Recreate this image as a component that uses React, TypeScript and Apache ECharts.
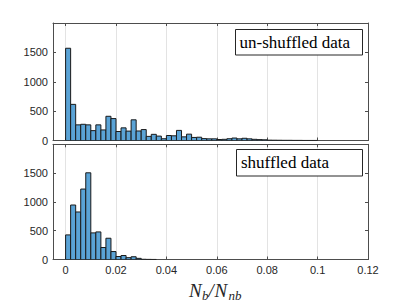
import React, { useEffect, useRef } from 'react';
import * as echarts from 'echarts';

// Histogram bin width (N_b/N_nb units); bins start at 0
const binWidth = 0.002;

// Counts per bin, un-shuffled data (top panel)
const unshuffledCounts = [
  1570, 615, 266, 276, 266, 168, 266, 180, 412, 373,
  153, 215, 160, 352, 162, 186, 70, 105, 75, 30,
  85, 80, 172, 62, 108, 52, 56, 32, 28, 28,
  17, 20, 30, 42, 28, 38, 28, 20, 15, 12,
  6, 5, 4, 3, 3, 2, 2, 1, 1, 1,
];

// Counts per bin, shuffled data (bottom panel)
const shuffledCounts = [
  427, 946, 825, 1223, 1505, 462, 479, 208, 369, 138,
  52, 69, 32, 48, 20, 4, 2, 1,
];

const panelLabels = ['un-shuffled data', 'shuffled data'];
const xMin = -0.005;
const xMax = 0.12;
const yMax = 2000;
const yStep = 500;

const axisColor = '#4d4d4d';
const barFill = '#5aa3d6';
const barEdge = '#1a1a1a';
const labelFont = { color: '#262626', fontFamily: 'Liberation Sans, Arial, sans-serif', fontSize: 11 };

function toBins(counts: number[]) {
  return counts.map((c, i) => [i * binWidth, (i + 1) * binWidth, c]);
}

function fmtX(v: number) {
  const k = v / 0.02;
  if (Math.abs(k - Math.round(k)) > 1e-6) return '';
  return String(Number(v.toFixed(4)));
}

function makeXAxes(gridIndex: number, showLabels: boolean) {
  const base: any = {
    type: 'value',
    gridIndex,
    min: xMin,
    max: xMax,
    splitNumber: 6,
    axisLine: { show: true, onZero: false, lineStyle: { color: axisColor, width: 1 } },
    axisTick: { show: true, inside: true, length: 3, lineStyle: { color: axisColor } },
  };
  return [
    {
      ...base,
      position: 'bottom',
      splitLine: { show: true, lineStyle: { color: '#e3e3e3', width: 1 } },
      axisLabel: { show: showLabels, margin: 5, ...labelFont, formatter: fmtX },
    },
    {
      ...base,
      position: 'top',
      splitLine: { show: false },
      axisLabel: { show: false },
    },
  ];
}

function makeYAxes(gridIndex: number) {
  const base: any = {
    type: 'value',
    gridIndex,
    min: 0,
    max: yMax,
    interval: yStep,
    axisLine: { show: true, onZero: false, lineStyle: { color: axisColor, width: 1 } },
    axisTick: { show: true, inside: true, length: 3, lineStyle: { color: axisColor } },
    splitLine: { show: false },
  };
  return [
    {
      ...base,
      position: 'left',
      axisLabel: {
        show: true,
        margin: 5,
        ...labelFont,
        formatter: (v: number) => (v >= yMax ? '' : String(v)),
      },
    },
    { ...base, position: 'right', axisLabel: { show: false } },
  ];
}

function histSeries(counts: number[], axisIndex: number) {
  return {
    type: 'custom',
    xAxisIndex: axisIndex,
    yAxisIndex: axisIndex,
    clip: true,
    encode: { x: [0, 1], y: 2 },
    data: toBins(counts),
    renderItem: (params: any, api: any) => {
      const x0 = api.value(0);
      const x1 = api.value(1);
      const v = api.value(2);
      const pTop = api.coord([x0, v]);
      const pBot = api.coord([x1, 0]);
      return {
        type: 'rect',
        shape: { x: pTop[0], y: pTop[1], width: pBot[0] - pTop[0], height: pBot[1] - pTop[1] },
        style: { fill: barFill, stroke: barEdge, lineWidth: 1 },
      };
    },
  };
}

function legendBox(x: number, y: number, w: number, h: number, text: string, tx: number) {
  return {
    type: 'group',
    z: 100,
    children: [
      {
        type: 'rect',
        z: 100,
        shape: { x, y, width: w, height: h },
        style: { fill: '#ffffff', stroke: '#262626', lineWidth: 1 },
      },
      {
        type: 'text',
        z: 101,
        x: tx,
        y: y + h / 2,
        style: {
          text,
          fill: '#000000',
          font: '17px "Liberation Serif", "Times New Roman", serif',
          verticalAlign: 'middle',
          align: 'left',
        },
      },
    ],
  };
}

function mathText(x: number, y: number, text: string, size: number) {
  return {
    type: 'text',
    z: 100,
    x,
    y,
    style: {
      text,
      fill: '#262626',
      font: `italic ${size}px "Liberation Serif", "Times New Roman", serif`,
      verticalAlign: 'middle',
      align: 'left',
    },
  };
}

export default function App() {
  const ref = useRef<HTMLDivElement>(null);

  useEffect(() => {
    if (!ref.current) return;
    const chart = echarts.init(ref.current, undefined, { renderer: 'svg' });
    const option: any = {
      animation: false,
      backgroundColor: '#ffffff',
      grid: [
        { left: 53, top: 23, width: 315, height: 117.5, containLabel: false },
        { left: 53, top: 144.3, width: 315, height: 115.2, containLabel: false },
      ],
      xAxis: [...makeXAxes(0, false), ...makeXAxes(1, true)],
      yAxis: [...makeYAxes(0), ...makeYAxes(1)],
      series: [histSeries(unshuffledCounts, 0), histSeries(shuffledCounts, 2)],
      graphic: [
        legendBox(235.5, 29.5, 127, 25.5, panelLabels[0], 239.5),
        legendBox(236.5, 149.5, 126, 26.5, panelLabels[1], 241),
        mathText(189, 290, 'N', 19),
        mathText(202, 295.5, 'b', 13),
        mathText(208.5, 290, '/', 19),
        mathText(214.5, 290, 'N', 19),
        mathText(228.5, 295.5, 'nb', 13),
      ],
    };
    chart.setOption(option);
    return () => chart.dispose();
  }, []);

  return (
    <div
      ref={ref}
      style={{ position: 'fixed', left: 0, top: 0, width: 407, height: 305, background: '#fff' }}
    />
  );
}
